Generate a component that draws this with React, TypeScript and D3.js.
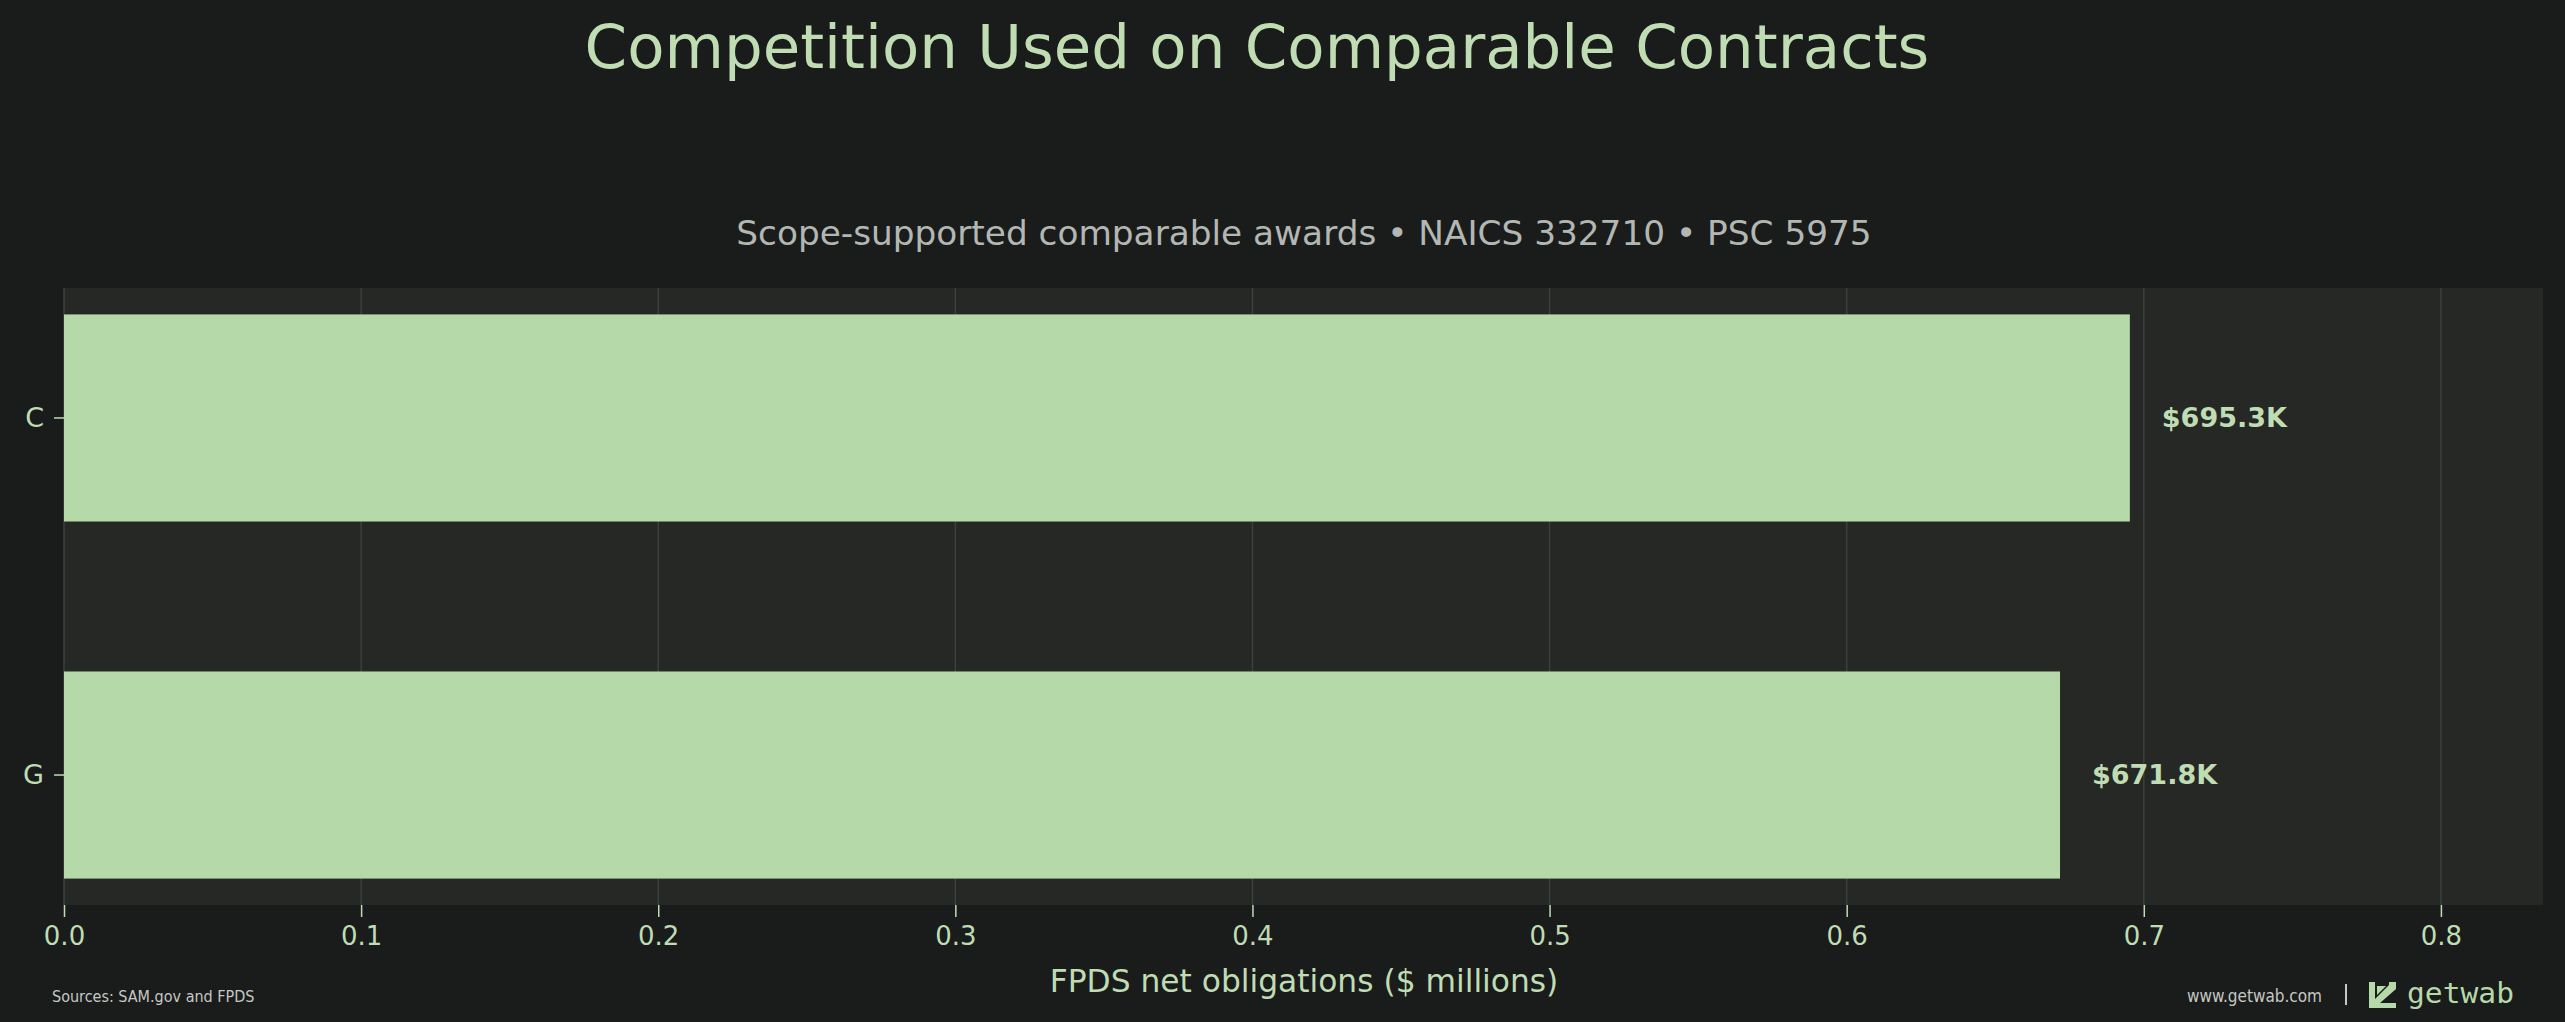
import { useEffect, useRef } from "react";
import * as d3 from "d3";

const categories = ["C", "G"];
const obligations = [0.6953, 0.6718]; // $ millions
const valueLabels = ["$695.3K", "$671.8K"];
const xTicks = [0, 0.1, 0.2, 0.3, 0.4, 0.5, 0.6, 0.7, 0.8];

const W = 2565;
const H = 1022;

export default function App() {
  const chartRef = useRef<SVGSVGElement>(null);

  useEffect(() => {
    if (!chartRef.current) return;

    const svg = d3.select(chartRef.current);
    svg.selectAll("*").remove();

    const margin = { top: 288, right: 22, bottom: 117, left: 64 };
    const innerW = W - margin.left - margin.right;
    const innerH = H - margin.top - margin.bottom;

    const font = "'DejaVu Sans', Verdana, sans-serif";
    const green = "#b6d9a9";
    const textGreen = "#bfdcb3";

    // background
    svg.append("rect").attr("width", W).attr("height", H).attr("fill", "#1a1c1b");

    // titles
    svg.append("text")
      .attr("x", 1257)
      .attr("y", 68)
      .attr("text-anchor", "middle")
      .attr("font-family", font)
      .attr("font-size", "61px")
      .attr("fill", textGreen)
      .text("Competition Used on Comparable Contracts");

    svg.append("text")
      .attr("x", 1304)
      .attr("y", 245)
      .attr("text-anchor", "middle")
      .attr("font-family", font)
      .attr("font-size", "34.3px")
      .attr("fill", "#b3b7b3")
      .text("Scope-supported comparable awards • NAICS 332710 • PSC 5975");

    const g = svg.append("g").attr("transform", `translate(${margin.left},${margin.top})`);

    // scales
    const maxVal = d3.max(obligations) || 0;
    const x = d3.scaleLinear().domain([0, maxVal * 1.2]).range([0, innerW]);
    const y = d3.scaleBand()
      .domain(categories)
      .range([0, innerH])
      .paddingInner(0.42)
      .paddingOuter(0.074);

    // plot area
    g.append("rect")
      .attr("width", innerW)
      .attr("height", innerH)
      .attr("fill", "#262826");

    // grid
    g.selectAll(".grid")
      .data(xTicks)
      .enter()
      .append("line")
      .attr("x1", d => x(d))
      .attr("x2", d => x(d))
      .attr("y1", 0)
      .attr("y2", innerH)
      .attr("stroke", "#3b403c")
      .attr("stroke-width", 1.5);

    // bars
    g.selectAll(".bar")
      .data(categories)
      .enter()
      .append("rect")
      .attr("x", 0)
      .attr("y", d => y(d) || 0)
      .attr("width", (_, i) => x(obligations[i]))
      .attr("height", y.bandwidth())
      .attr("fill", green);

    // value labels
    g.selectAll(".bar-label")
      .data(categories)
      .enter()
      .append("text")
      .attr("x", (_, i) => x(obligations[i]) + 32)
      .attr("y", d => (y(d) || 0) + y.bandwidth() / 2)
      .attr("dy", "0.35em")
      .attr("font-family", font)
      .attr("font-size", "27px")
      .attr("font-weight", "bold")
      .attr("fill", textGreen)
      .text((_, i) => valueLabels[i]);

    // x axis
    const xAxis = g.append("g")
      .attr("transform", `translate(0,${innerH})`)
      .call(d3.axisBottom(x).tickValues(xTicks).tickFormat(d3.format(".1f")).tickSize(12).tickPadding(10));
    xAxis.select(".domain").remove();
    xAxis.selectAll("line").attr("stroke", textGreen).attr("stroke-width", 1.5);
    xAxis.selectAll("text")
      .attr("font-family", font)
      .attr("font-size", "26px")
      .attr("fill", textGreen);

    // y axis
    const yAxis = g.append("g")
      .call(d3.axisLeft(y).tickSize(10).tickPadding(10));
    yAxis.select(".domain").remove();
    yAxis.selectAll("line").attr("stroke", textGreen).attr("stroke-width", 1.5);
    yAxis.selectAll("text")
      .attr("font-family", font)
      .attr("font-size", "27px")
      .attr("fill", textGreen);

    // axis label
    svg.append("text")
      .attr("x", 1304)
      .attr("y", 992)
      .attr("text-anchor", "middle")
      .attr("font-family", font)
      .attr("font-size", "31.3px")
      .attr("fill", textGreen)
      .text("FPDS net obligations ($ millions)");

    // footer
    svg.append("text")
      .attr("x", 52)
      .attr("y", 1002)
      .attr("font-family", "'DejaVu Sans Condensed', 'DejaVu Sans', sans-serif")
      .attr("font-size", "16px")
      .attr("fill", "#c4c8c4")
      .text("Sources: SAM.gov and FPDS");

    svg.append("text")
      .attr("x", 2322)
      .attr("y", 1002)
      .attr("text-anchor", "end")
      .attr("font-family", "'DejaVu Sans Condensed', 'DejaVu Sans', sans-serif")
      .attr("font-size", "17px")
      .attr("fill", "#c4c8c4")
      .text("www.getwab.com");

    svg.append("line")
      .attr("x1", 2346).attr("x2", 2346)
      .attr("y1", 984).attr("y2", 1005)
      .attr("stroke", "#c4c8c4")
      .attr("stroke-width", 2);

    // logo mark
    const logo = svg.append("g").attr("transform", "translate(2369,982)");
    logo.append("path")
      .attr("d", "M0,0 H6 V17 L20,3 V0 H27 V7 L11,21 H27 V26 H0 Z")
      .attr("fill", green);
    logo.append("path")
      .attr("d", "M8,4 L17,4 L8,13 Z")
      .attr("fill", green);

    svg.append("text")
      .attr("x", 2407)
      .attr("y", 1003)
      .attr("font-family", "'DejaVu Sans Mono', monospace")
      .attr("font-size", "28px")
      .attr("textLength", 107)
      .attr("lengthAdjust", "spacingAndGlyphs")
      .attr("fill", green)
      .text("getwab");
  }, []);

  return (
    <svg
      ref={chartRef}
      width={W}
      height={H}
      style={{ position: "absolute", left: 0, top: 0, display: "block" }}
    ></svg>
  );
}
